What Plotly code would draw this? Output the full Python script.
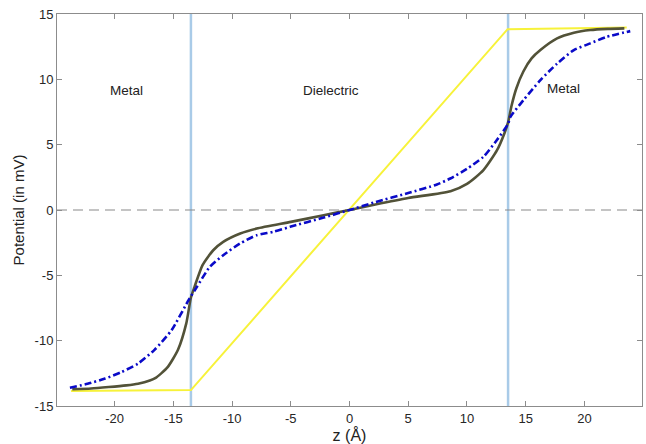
import plotly.graph_objects as go

# ---- data ----
yellow_z = [-23.7, -13.5, 13.46, 23.6]
yellow_v = [-13.85, -13.78, 13.84, 13.96]

dark_z = [-23.6, -22.0, -20.5, -19.0, -18.0, -17.0, -16.5, -15.5, -14.6, -13.9, -13.5, -13.2,
          -12.5, -11.6, -10.75, -9.3, -7.9, -5.0, -2.2, 0.0, 2.2, 5.0, 8.6, 10.0, 11.4,
          12.56, 13.2, 13.5, 13.8, 14.2, 14.8, 15.5, 16.25, 17.67, 19.1, 20.5, 22.0, 23.4]
dark_v = [-13.72, -13.66, -13.55, -13.42, -13.29, -13.05, -12.85, -12.05, -10.7, -8.7, -6.7, -5.9,
          -4.2, -3.08, -2.44, -1.8, -1.42, -0.91, -0.40, 0.0, 0.42, 0.92, 1.44, 2.0, 3.05,
          4.58, 5.9, 6.7, 8.0, 9.3, 10.6, 11.6, 12.24, 13.13, 13.56, 13.77, 13.86, 13.9]

blue_z = [-23.8, -22.3, -20.8, -19.4, -18.0, -16.6, -15.15, -13.7, -13.0, -11.9, -10.75, -9.33,
          -7.9, -6.5, -5.06, -2.2, 0.0, 2.2, 5.0, 7.44, 8.58, 10.0, 11.4, 12.5, 13.5, 13.7,
          14.8, 16.25, 17.67, 19.1, 20.5, 21.9, 23.9]
blue_v = [-13.6, -13.3, -12.9, -12.4, -11.75, -10.7, -9.2, -6.9, -5.9, -4.36, -3.46, -2.57,
          -1.93, -1.67, -1.29, -0.58, 0.0, 0.6, 1.3, 1.95, 2.41, 3.15, 4.07, 5.3, 6.6, 7.13,
          8.4, 9.94, 11.2, 12.24, 12.75, 13.25, 13.69]

wall_positions = [-13.5, 13.5]
region_labels = ["Metal", "Dielectric", "Metal"]
region_label_z = [-19.0, -1.6, 18.2]
region_label_v = [9.17, 9.17, 9.3]

x_ticks = [-20, -15, -10, -5, 0, 5, 10, 15, 20]
x_tick_labels = ["-20", "-15", "-10", "-5", "0", "5", "10", "15", "20"]
y_ticks = [-15, -10, -5, 0, 5, 10, 15]
y_tick_labels = ["-15", "-10", "-5", "0", "5", "10", "15"]

FONT = "Liberation Sans, Arial, sans-serif"

fig = go.Figure()

for wz in wall_positions:
    fig.add_vline(x=wz, line=dict(color="#a9cbe8", width=2.5), layer="below")
fig.add_hline(y=0, line=dict(color="#8a8a8a", width=1.2, dash="10px,6px"), layer="below")

fig.add_trace(go.Scatter(x=yellow_z, y=yellow_v, mode="lines",
                         line=dict(color="#f7f23a", width=2), showlegend=False))
fig.add_trace(go.Scatter(x=dark_z, y=dark_v, mode="lines",
                         line=dict(color="#525238", width=2.6, shape="spline", smoothing=0.6),
                         showlegend=False))
fig.add_trace(go.Scatter(x=blue_z, y=blue_v, mode="lines",
                         line=dict(color="#0a0ac8", width=2.6, shape="spline", smoothing=0.6,
                                   dash="7px,3px,2px,3px"),
                         showlegend=False))

for t, zx, vy in zip(region_labels, region_label_z, region_label_v):
    fig.add_annotation(x=zx, y=vy, text=t, showarrow=False,
                       font=dict(family=FONT, size=13.5, color="#222222"))

axis_common = dict(showline=True, linecolor="#8c8c8c", linewidth=1, mirror="ticks",
                   ticks="inside", ticklen=5, tickcolor="#8c8c8c", showgrid=False, zeroline=False,
                   tickfont=dict(family=FONT, size=13, color="#262626"))

fig.update_xaxes(range=[-24.9, 24.9], tickvals=x_ticks, ticktext=x_tick_labels,
                 title=dict(text="z (Å)", standoff=3,
                            font=dict(family=FONT, size=16, color="#222222")),
                 **axis_common)
fig.update_yaxes(range=[-15, 15], tickvals=y_ticks, ticktext=y_tick_labels,
                 title=dict(text="Potential (in mV)", standoff=6,
                            font=dict(family=FONT, size=15, color="#222222")),
                 **axis_common)

fig.update_layout(width=646, height=444, plot_bgcolor="white", paper_bgcolor="white",
                  margin=dict(l=57, r=4, t=14, b=38), showlegend=False)

fig.write_html("out.html", config={"displayModeBar": False},
               post_script="document.body.style.margin='0';")
